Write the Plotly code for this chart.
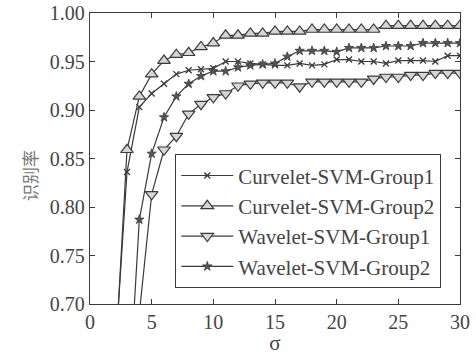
import plotly.graph_objects as go

sigma = list(range(2, 31))

curvelet_g1 = [0.640, 0.836, 0.903, 0.917, 0.927, 0.937, 0.941, 0.942, 0.943, 0.950,
               0.950, 0.948, 0.947, 0.946, 0.946, 0.948, 0.946, 0.947, 0.952, 0.952,
               0.950, 0.950, 0.948, 0.951, 0.951, 0.951, 0.950, 0.956, 0.956]

curvelet_g2 = [0.630, 0.859, 0.914, 0.937, 0.951, 0.957, 0.959, 0.965, 0.969, 0.977,
               0.977, 0.979, 0.979, 0.981, 0.981, 0.981, 0.983, 0.983, 0.983, 0.983,
               0.983, 0.983, 0.987, 0.987, 0.987, 0.987, 0.987, 0.987, 0.987]

wavelet_g1 = [0.420, 0.560, 0.690, 0.813, 0.859, 0.873, 0.896, 0.906, 0.913, 0.917,
              0.925, 0.927, 0.928, 0.928, 0.928, 0.924, 0.929, 0.929, 0.929, 0.929,
              0.929, 0.932, 0.934, 0.934, 0.936, 0.936, 0.938, 0.938, 0.938]

wavelet_g2 = [0.400, 0.570, 0.787, 0.855, 0.8925, 0.914, 0.927, 0.935, 0.940, 0.940,
              0.944, 0.946, 0.947, 0.948, 0.955, 0.961, 0.961, 0.961, 0.960, 0.964,
              0.964, 0.964, 0.966, 0.966, 0.966, 0.969, 0.969, 0.969, 0.969]

x_ticks = [0, 5, 10, 15, 20, 25, 30]
y_ticks = [0.70, 0.75, 0.80, 0.85, 0.90, 0.95, 1.00]

LINE = "#3a3a3a"
FONT = "Liberation Serif"
TXT = "#444444"

fig = go.Figure()

fig.add_trace(go.Scatter(
    x=sigma, y=curvelet_g1, mode="lines+markers", name="Curvelet-SVM-Group1",
    line=dict(color=LINE, width=1.2),
    marker=dict(symbol="x-thin", size=6, line=dict(color=LINE, width=1.3))))

fig.add_trace(go.Scatter(
    x=sigma, y=curvelet_g2, mode="lines+markers", name="Curvelet-SVM-Group2",
    line=dict(color=LINE, width=1.2),
    marker=dict(symbol="triangle-up", size=11, color="#d6d6d6",
                line=dict(color=LINE, width=1.2))))

fig.add_trace(go.Scatter(
    x=sigma, y=wavelet_g1, mode="lines+markers", name="Wavelet-SVM-Group1",
    line=dict(color=LINE, width=1.2),
    marker=dict(symbol="triangle-down", size=11, color="#d6d6d6",
                line=dict(color=LINE, width=1.2))))

fig.add_trace(go.Scatter(
    x=sigma, y=wavelet_g2, mode="lines+markers", name="Wavelet-SVM-Group2",
    line=dict(color=LINE, width=1.2),
    marker=dict(symbol="star", size=7, color="#555555",
                line=dict(color=LINE, width=0.8))))

fig.update_layout(
    width=476, height=355,
    margin=dict(l=90, r=16, t=13, b=51, autoexpand=False),
    paper_bgcolor="white", plot_bgcolor="white",
    font=dict(family=FONT, size=20, color=TXT),
    showlegend=True,
    legend=dict(
        x=0.23, y=0.515, xanchor="left", yanchor="top",
        bgcolor="white", bordercolor=LINE, borderwidth=1.2,
        font=dict(family=FONT, size=21, color=TXT),
        itemwidth=52, tracegroupgap=0,
    ),
    annotations=[dict(
        text="识别率", xref="paper", yref="paper",
        x=-0.162, y=0.44, xanchor="center", yanchor="middle",
        textangle=-90, showarrow=False,
        font=dict(family="Noto Sans CJK SC", size=17, color="#777777"),
    )],
)

fig.update_xaxes(
    range=[0, 30], tickvals=x_ticks, ticktext=[str(v) for v in x_ticks],
    ticks="inside", ticklen=5, tickcolor=LINE, showline=True, linecolor=LINE,
    linewidth=1.3, mirror="ticks", showgrid=False, zeroline=False, automargin=False,
    tickfont=dict(family=FONT, size=20, color=TXT),
    title=dict(text="σ", font=dict(family=FONT, size=21, color=TXT), standoff=8),
)

fig.update_yaxes(
    range=[0.70, 1.00], tickvals=y_ticks, ticktext=[f"{v:.2f}" for v in y_ticks],
    ticks="inside", ticklen=5, tickcolor=LINE, showline=True, linecolor=LINE,
    linewidth=1.3, mirror="ticks", showgrid=False, zeroline=False, automargin=False,
    tickfont=dict(family=FONT, size=20, color=TXT),
)

fig.write_html("out.html", config={"displayModeBar": False},
               post_script="document.body.style.margin='0';document.body.style.padding='0';")
